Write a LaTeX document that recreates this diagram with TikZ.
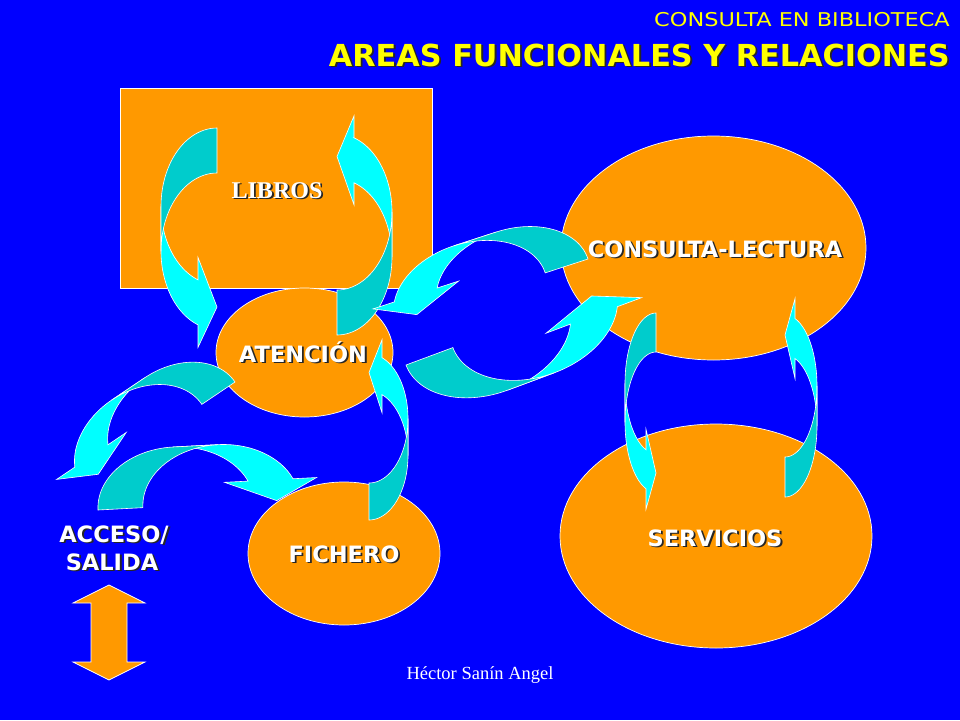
\documentclass[tikz,border=0pt]{standalone}
\usepackage{fontspec}
\newfontfamily\dvs{DejaVu Sans}
\newfontfamily\lser{Liberation Serif}
\definecolor{bg}{RGB}{0,0,255}
\definecolor{org}{RGB}{255,153,0}
\definecolor{cya}{RGB}{0,255,255}
\definecolor{tea}{RGB}{0,204,204}
\definecolor{ylw}{RGB}{255,255,0}
\newcommand\carrow[5]{%
 \pgfmathsetmacro\cw{#1}%
 \pgfmathsetmacro\ch{#2}%
 \pgfmathsetmacro\cth{#3}%
 \pgfmathsetmacro\caw{#4}%
 \pgfmathsetmacro\cah{#5}%
 \pgfmathsetmacro\chR{\ch/2-(\cth+\caw)/4}%
 \pgfmathsetmacro\cyT{\chR+\cth}%
 \pgfmathsetmacro\cdy{sqrt(1-(\cah/\cw)^2)*\chR}%
 \pgfmathsetmacro\cyV{\chR+\cdy}%
 \pgfmathsetmacro\cyS{\cyT+\cdy}%
 \pgfmathsetmacro\cdh{(\caw-\cth)/2}%
 \pgfmathsetmacro\cyIV{\cyV-\cdh}%
 \pgfmathsetmacro\cyE{\cyS+\cdh}%
 \pgfmathsetmacro\cyVI{\ch-\caw/2}%
 \pgfmathsetmacro\cxI{\cw-\cah}%
 \pgfmathsetmacro\cang{acos(-\cah/\cw)}%
 \filldraw[arw, fill=cya] plot[domain=180:\cang,samples=30,variable=\t] ({\cw+\cw*cos(\t)},{\chR+\chR*sin(\t)}) -- (\cxI,\cyIV) -- (\cw,\cyVI) -- (\cxI,\cyE) -- (\cxI,\cyS) -- plot[domain=\cang:180,samples=30,variable=\t] ({\cw+\cw*cos(\t)},{\cyT+\chR*sin(\t)}) -- cycle;
 \filldraw[arw, fill=tea] plot[domain=270:180,samples=30,variable=\t] ({\cw+\cw*cos(\t)},{\cyT+\chR*sin(\t)}) -- plot[domain=180:270,samples=30,variable=\t] ({\cw+\cw*cos(\t)},{\chR+\chR*sin(\t)}) -- cycle;
}
\newcommand\shtxt[4]{%
 \node[#3, text=black!85, xshift=1.8pt, yshift=-1.8pt] at #2 {#4};
 \node[#3] (#1) at #2 {#4};}
\begin{document}
\begin{tikzpicture}[x=1pt,y=-1pt, line join=miter,
  shp/.style={fill=org, draw=white, line width=0.7pt},
  arw/.style={draw=white, line width=0.6pt},
  lbl/.style={text=white, font=\dvs\bfseries\fontsize{22.5}{26}\selectfont, inner sep=0pt, anchor=base},
  ttl/.style={text=ylw, font=\dvs\bfseries\fontsize{30.3}{36}\selectfont, inner sep=0pt, anchor=base east},
  sub/.style={text=ylw, font=\dvs\fontsize{19}{22}\selectfont, inner sep=0pt, anchor=base east},
  lib/.style={text=white, font=\lser\bfseries\fontsize{24}{28}\selectfont, inner sep=0pt, anchor=base},
  ftr/.style={text=white, font=\lser\fontsize{18.5}{22}\selectfont, inner sep=0pt, anchor=base}]
\useasboundingbox (0,0) rectangle (960,720);
\fill[bg] (0,0) rectangle (960,720);
% areas
\draw[shp] (120,88) rectangle (432,288);
\draw[shp] (304.5,352.5) ellipse[x radius=88.5, y radius=64.5];
\draw[shp] (713.5,248) ellipse[x radius=152.5, y radius=112];
\draw[shp] (716,536) ellipse[x radius=156, y radius=112];
\draw[shp] (344,553.5) ellipse[x radius=96, y radius=71.5];
% double arrow
\draw[shp] (109,585) -- (145,603) -- (127,603) -- (127,662) -- (145,662) -- (109,680) -- (73,662) -- (91,662) -- (91,603) -- (73,603) -- cycle;
% curved arrows
\begin{scope}[shift={(217,128)}, shift={(-56,0)}]\carrow{56}{224}{45}{90}{19}\end{scope}
\begin{scope}[shift={(337,335)}, rotate=180, shift={(-55,0)}]\carrow{55}{223}{45}{89}{17}\end{scope}
\begin{scope}[shift={(588,259)}, rotate=-72, shift={(-54,0)}]\carrow{54}{225}{45}{90}{19}\end{scope}
\begin{scope}[shift={(406,365)}, rotate=110.4, shift={(-59,0)}]\carrow{59}{249}{50}{102}{19}\end{scope}
\begin{scope}[shift={(235,382)}, rotate=-56, shift={(-54,0)}]\carrow{54}{207}{40}{84}{19}\end{scope}
\begin{scope}[shift={(98,510)}, rotate=93, xscale=-1, shift={(-59,0)}]\carrow{59}{225}{45}{92}{21}\end{scope}
\begin{scope}[shift={(369,520)}, rotate=180, shift={(-39,0)}]\carrow{39}{184}{37}{73}{13}\end{scope}
\begin{scope}[shift={(656,313)}, shift={(-31,0)}]\carrow{31}{200}{39}{80}{10}\end{scope}
\begin{scope}[shift={(785,497)}, rotate=180, shift={(-32,0)}]\carrow{32}{202}{40}{80}{10}\end{scope}
% texts
\node[sub] (subt) at (950,27) {\scalebox{1.18}[1]{CONSULTA EN BIBLIOTECA}};
\shtxt{title}{(950,66)}{ttl}{AREAS FUNCIONALES Y RELACIONES}
\shtxt{libros}{(277,198)}{lib}{LIBROS}
\shtxt{atencion}{(303,362)}{lbl}{ATENCIÓN}
\shtxt{consulta}{(715,257)}{lbl}{CONSULTA-LECTURA}
\shtxt{servicios}{(715,546)}{lbl}{SERVICIOS}
\shtxt{fichero}{(344,562)}{lbl}{FICHERO}
\shtxt{acceso}{(114,542)}{lbl}{ACCESO/}
\shtxt{salida}{(112,570)}{lbl}{SALIDA}
\node[ftr] (autor) at (480,679) {Héctor Sanín Angel};
\end{tikzpicture}
\end{document}
